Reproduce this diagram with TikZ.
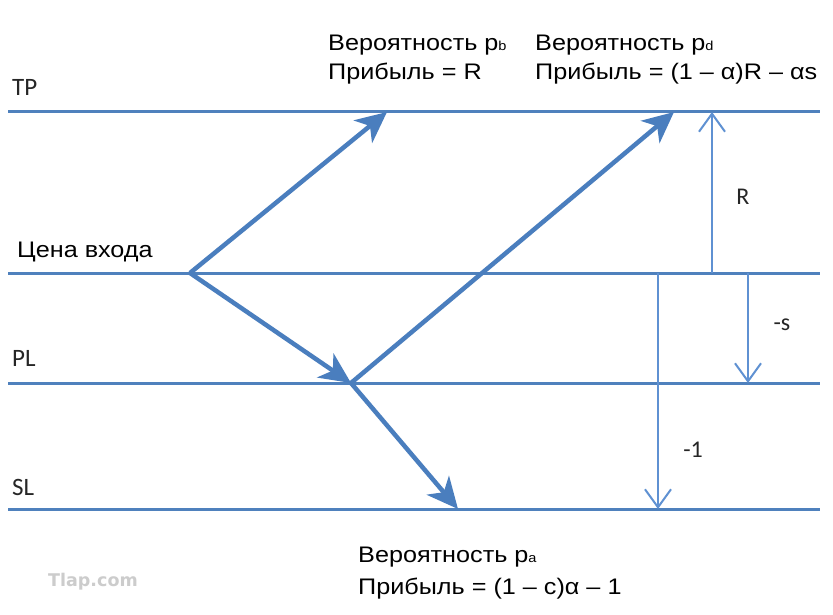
\documentclass[tikz,border=0pt]{standalone}
\usepackage{fontspec}
\setmainfont{Liberation Sans}
\newfontfamily\labfont[FakeStretch=1.12]{Liberation Sans}
\newfontfamily\calfont{Carlito}
\newfontfamily\wmfont{DejaVu Sans}
\usetikzlibrary{arrows.meta}
\definecolor{hl}{RGB}{79,129,189}
\definecolor{mv}{RGB}{74,126,190}
\definecolor{th}{RGB}{95,145,210}
\newcommand\lowsub[1]{{\fontsize{13}{13}\selectfont #1}}
\begin{document}
\begin{tikzpicture}[x=1pt,y=-1pt,
  level/.style={draw=hl, line width=3pt},
  move/.style={draw=mv, line width=4.5pt, -{Stealth[length=31pt,width=29pt,inset=9pt]}},
  dist/.style={draw=th, line width=2pt, -{Straight Barb[length=18pt,width=26pt,line width=2pt]}},
  txt/.style={inner sep=0pt, anchor=base west, font=\labfont\fontsize{22.5}{26}\selectfont, text=black},
  tag/.style={inner sep=0pt, anchor=base west, font=\calfont\fontsize{25}{26}\selectfont, text=black!85},
  val/.style={inner sep=0pt, font=\calfont\fontsize{24}{26}\selectfont, text=black!85},
]
\useasboundingbox (0,0) rectangle (833,615);
\fill[white] (0,0) rectangle (833,615);

% levels
\coordinate (tpL) at (8,112);  \coordinate (tpR) at (820,112);
\coordinate (enL) at (8,273);  \coordinate (enR) at (820,273);
\coordinate (plL) at (8,383);  \coordinate (plR) at (820,383);
\coordinate (slL) at (8,509);  \coordinate (slR) at (820,509);
\draw[level] (tpL) -- (tpR);
\draw[level] (enL) -- (enR);
\draw[level] (plL) -- (plR);
\draw[level] (slL) -- (slR);

% price path
\coordinate (entry) at (190,273);
\coordinate (hitTP) at (387,112);
\coordinate (hitPL) at (351,383);
\coordinate (hitTPb) at (674,112);
\coordinate (hitSL) at (458,509);
\draw[move] (entry) -- (hitTP);
\draw[move] (entry) -- (hitPL);
\draw[move] (hitPL) -- (hitTPb);
\draw[move] (hitPL) -- (hitSL);

% distances
\coordinate (rB) at (712,273); \coordinate (rT) at (712,112);
\coordinate (sT) at (748,273); \coordinate (sB) at (748,383);
\coordinate (oT) at (658,273); \coordinate (oB) at (658,509);
\draw[dist] (rB) -- (rT);
\draw[dist] (sT) -- (sB);
\draw[dist] (oT) -- (oB);
\node[val] (lR) at (743,197) {R};
\node[val] (ls) at (782,325) {-s};
\node[val] (l1) at (693,450) {-1};

% level names
\node[tag] (nTP) at (12,96) {TP};
\node[txt] (nEn) at (17,257) {Цена входа};
\node[tag] (nPL) at (12,366) {PL};
\node[tag] (nSL) at (12,495) {SL};

% outcomes
\node[txt] (pb1) at (328,51) {Вероятность p\lowsub{b}};
\node[txt] (pb2) at (328,80) {Прибыль = R};
\node[txt] (pd1) at (535,51) {Вероятность p\lowsub{d}};
\node[txt] (pd2) at (535,80) {Прибыль = (1 – α)R – αs};
\node[txt] (pa1) at (358,562) {Вероятность p\lowsub{a}};
\node[txt] (pa2) at (358,594) {Прибыль = (1 – c)α – 1};

\node[inner sep=0pt, anchor=base west, font=\wmfont\bfseries\fontsize{17.5}{18}\selectfont, text=black!20] (wm) at (48,586) {Tlap.com};
\end{tikzpicture}
\end{document}
